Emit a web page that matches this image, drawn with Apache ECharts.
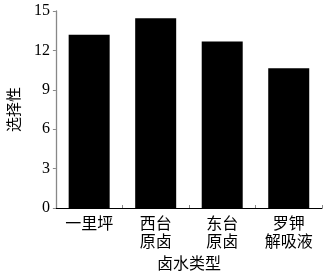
<!DOCTYPE html>
<html><head><meta charset="utf-8">
<script src="https://cdn.jsdelivr.net/npm/echarts@6/dist/echarts.min.js"></script>
<style>html,body{margin:0;padding:0;background:#fff}#c{width:330px;height:278px}</style>
</head><body><div id="c"></div>
<script>
const categories = ['一里坪', '西台\n原卤', '东台\n原卤', '罗钾\n解吸液'];
const values = [13.2, 14.45, 12.67, 10.65];
const yTicks = [0, 3, 6, 9, 12, 15];
const xName = '卤水类型';
const yName = '选择性';

const chart = echarts.init(document.getElementById('c'), null, {renderer: 'canvas'});
const cjk = '"Liberation Serif", "Noto Sans CJK SC", serif';
chart.setOption({
  animation: false,
  grid: {left: 55, right: 8, top: 11, bottom: 70, containLabel: false},
  xAxis: {
    type: 'category', data: categories,
    name: xName, nameLocation: 'middle', nameGap: 46,
    nameTextStyle: {fontFamily: cjk, fontSize: 16, color: '#000'},
    axisLine: {lineStyle: {color: '#000', width: 1}},
    axisTick: {show: true, inside: true, length: 3, lineStyle: {color: '#888'}},
    axisLabel: {fontFamily: cjk, fontSize: 16, color: '#000', lineHeight: 18, margin: 8}
  },
  yAxis: {
    type: 'value', min: yTicks[0], max: yTicks[yTicks.length - 1], interval: 3,
    name: yName, nameLocation: 'middle', nameGap: 27, nameRotate: 90,
    nameTextStyle: {fontFamily: cjk, fontSize: 15, color: '#000'},
    axisLine: {show: true, lineStyle: {color: '#888', width: 1.3}},
    axisTick: {show: true, length: 3, lineStyle: {color: '#888'}},
    axisLabel: {fontFamily: '"Liberation Serif", serif', fontSize: 16, color: '#000', margin: 6},
    splitLine: {show: false}
  },
  series: [{
    type: 'bar', data: values, barWidth: 41,
    itemStyle: {color: '#000'}
  }]
});
</script></body></html>
